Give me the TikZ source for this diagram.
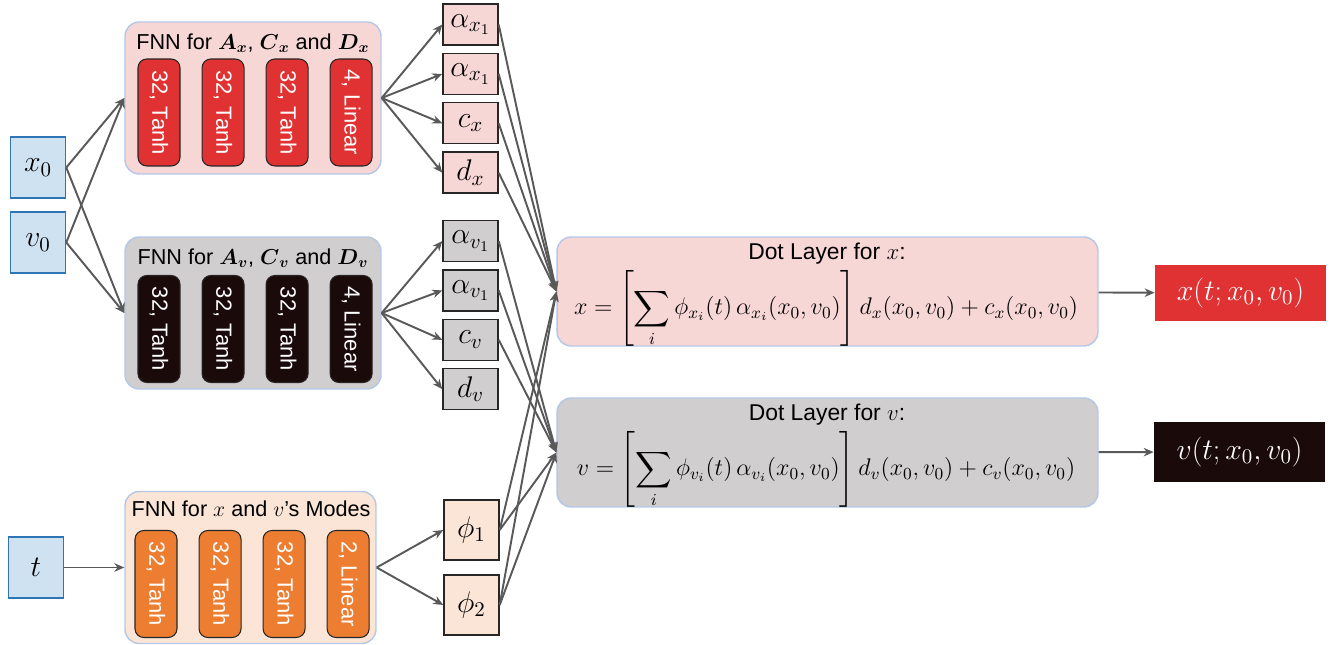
\RequirePackage{fix-cm}
\documentclass[tikz,border=0pt]{standalone}
\usepackage{amsmath}
\usepackage{fontspec}
\setmainfont{Liberation Sans}
\usetikzlibrary{arrows.meta,positioning}
\definecolor{infill}{RGB}{207,226,242}
\definecolor{inborder}{RGB}{46,117,182}
\definecolor{frame}{RGB}{180,199,231}
\definecolor{pinkbg}{RGB}{247,214,214}
\definecolor{greybg}{RGB}{208,206,206}
\definecolor{peachbg}{RGB}{251,229,214}
\definecolor{redunit}{RGB}{224,50,50}
\definecolor{darkunit}{RGB}{26,10,10}
\definecolor{orangeunit}{RGB}{237,125,49}
\definecolor{wire}{RGB}{89,89,89}
\newcommand{\vtext}[1]{\rotatebox{-90}{#1}}
\newcommand{\bsym}[1]{\boldsymbol{#1}}
\tikzset{
  invar/.style={draw=inborder,line width=0.9pt,fill=infill,minimum width=1.1cm,minimum height=1.22cm,inner sep=0pt,font=\fontsize{17}{19}\selectfont},
  fnn/.style={draw=frame,line width=0.8pt,rounded corners=8pt,minimum width=5.12cm,minimum height=3.04cm},
  nnlayer/.style={draw=black!85,line width=0.6pt,rounded corners=5pt,minimum width=0.84cm,minimum height=2.14cm,inner sep=0pt,text=white,font=\fontsize{12.5}{14}\selectfont},
  coef/.style={draw=black!85,line width=0.8pt,minimum width=1.1cm,minimum height=0.82cm,inner sep=0pt,font=\fontsize{17}{19}\selectfont},
  dotbox/.style={draw=frame,line width=0.8pt,rounded corners=8pt,minimum width=10.82cm,minimum height=2.18cm},
  formula/.style={inner sep=0pt,font=\fontsize{13.7}{16}\selectfont},
  result/.style={minimum width=3.42cm,minimum height=1.14cm,inner sep=0pt,text=white,font=\fontsize{17}{19}\selectfont},
  hdr/.style={inner sep=0pt,font=\fontsize{12.3}{14}\selectfont},
  arr/.style={-{Stealth[length=2mm,width=1.7mm]},draw=wire,line width=1.1pt}
}
\begin{document}
\begin{tikzpicture}[x=0.02cm,y=-0.02cm,node distance=0.42cm]
  \useasboundingbox (0,0) rectangle (1343,645);
  \node[invar] (x0) at (38,167.5) {$x_0$};
  \node[invar] (v0) at (38,242.5) {$v_0$};
  \node[invar] (t) at (36,567.5) {$t$};

  \node[fnn,fill=pinkbg] (fnnx) at (253,98) {};
  \node[hdr] at (253,43) {FNN for $\bsym{A}_{\bsym{x}}$, $\bsym{C}_{\bsym{x}}$ and $\bsym{D}_{\bsym{x}}$};
  \node[nnlayer,fill=redunit] (xl1) at (159,112.5) {\vtext{32, Tanh}};
  \node[nnlayer,fill=redunit,right=of xl1] (xl2) {\vtext{32, Tanh}};
  \node[nnlayer,fill=redunit,right=of xl2] (xl3) {\vtext{32, Tanh}};
  \node[nnlayer,fill=redunit,right=of xl3] (xl4) {\vtext{4, Linear}};

  \node[fnn,fill=greybg] (fnnv) at (253,313) {};
  \node[hdr] at (253,258) {FNN for $\bsym{A}_{\bsym{v}}$, $\bsym{C}_{\bsym{v}}$ and $\bsym{D}_{\bsym{v}}$};
  \node[nnlayer,fill=darkunit] (vl1) at (159,329) {\vtext{32, Tanh}};
  \node[nnlayer,fill=darkunit,right=of vl1] (vl2) {\vtext{32, Tanh}};
  \node[nnlayer,fill=darkunit,right=of vl2] (vl3) {\vtext{32, Tanh}};
  \node[nnlayer,fill=darkunit,right=of vl3] (vl4) {\vtext{4, Linear}};

  \node[fnn,fill=peachbg,minimum width=5.02cm] (fnnt) at (250.5,567.5) {};
  \node[hdr] at (251,509) {FNN for $x$ and $v$'s Modes};
  \node[nnlayer,fill=orangeunit] (tl1) at (156,584) {\vtext{32, Tanh}};
  \node[nnlayer,fill=orangeunit,right=of tl1] (tl2) {\vtext{32, Tanh}};
  \node[nnlayer,fill=orangeunit,right=of tl2] (tl3) {\vtext{32, Tanh}};
  \node[nnlayer,fill=orangeunit,right=of tl3] (tl4) {\vtext{2, Linear}};

  \node[coef,fill=pinkbg] (ax1) at (470.5,24.5) {$\alpha_{x_1}$};
  \node[coef,fill=pinkbg,below=0.14cm of ax1] (ax2) {$\alpha_{x_1}$};
  \node[coef,fill=pinkbg,below=0.14cm of ax2] (cx) {$c_x$};
  \node[coef,fill=pinkbg,below=0.14cm of cx] (dx) {$d_x$};
  \node[coef,fill=greybg] (av1) at (470.5,241) {$\alpha_{v_1}$};
  \node[coef,fill=greybg,below=0.14cm of av1] (av2) {$\alpha_{v_1}$};
  \node[coef,fill=greybg,below=0.14cm of av2] (cv) {$c_v$};
  \node[coef,fill=greybg,below=0.14cm of cv] (dv) {$d_v$};
  \node[coef,fill=peachbg,minimum height=1.2cm] (phi1) at (471.5,530) {$\phi_1$};
  \node[coef,fill=peachbg,minimum height=1.2cm] (phi2) at (471.5,605) {$\phi_2$};

  \node[dotbox,fill=pinkbg] (dotx) at (827.5,291.5) {};
  \node[hdr,font=\fontsize{13}{15}\selectfont] at (827,254) {Dot Layer for $x$:};
  \node[formula] at (826,309) {$\displaystyle x=\left[\sum_i \phi_{x_i}(t)\,\alpha_{x_i}(x_0,v_0)\right] d_x(x_0,v_0)+c_x(x_0,v_0)$};
  \node[dotbox,fill=greybg] (dotv) at (827.5,452.5) {};
  \node[hdr,font=\fontsize{13}{15}\selectfont] at (827,415) {Dot Layer for $v$:};
  \node[formula] at (826,470) {$\displaystyle v=\left[\sum_i \phi_{v_i}(t)\,\alpha_{v_i}(x_0,v_0)\right] d_v(x_0,v_0)+c_v(x_0,v_0)$};

  \node[result,fill=redunit] (outx) at (1240.5,293) {$x(t;x_0,v_0)$};
  \node[result,fill=darkunit,minimum height=1.2cm] (outv) at (1239.5,452) {$v(t;x_0,v_0)$};

  \draw[arr] (x0.east)--(fnnx.west);
  \draw[arr] (x0.east)--(fnnv.west);
  \draw[arr] (v0.east)--(fnnx.west);
  \draw[arr] (v0.east)--(fnnv.west);
  \draw[arr] (t)--(fnnt);
  \draw[arr] (fnnx.east)--(ax1.west);
  \draw[arr] (fnnx.east)--(ax2.west);
  \draw[arr] (fnnx.east)--(cx.west);
  \draw[arr] (fnnx.east)--(dx.west);
  \draw[arr] (fnnv.east)--(av1.west);
  \draw[arr] (fnnv.east)--(av2.west);
  \draw[arr] (fnnv.east)--(cv.west);
  \draw[arr] (fnnv.east)--(dv.west);
  \draw[arr] (fnnt.east)--(phi1.west);
  \draw[arr] (fnnt.east)--(phi2.west);
  \draw[arr] (ax1.east)--(dotx.west);
  \draw[arr] (ax2.east)--(dotx.west);
  \draw[arr] (cx.east)--(dotx.west);
  \draw[arr] (dx.east)--(dotx.west);
  \draw[arr] (phi1.east)--(dotx.west);
  \draw[arr] (phi2.east)--(dotx.west);
  \draw[arr] (av1.east)--(dotv.west);
  \draw[arr] (av2.east)--(dotv.west);
  \draw[arr] (cv.east)--(dotv.west);
  \draw[arr] (phi1.east)--(dotv.west);
  \draw[arr] (phi2.east)--(dotv.west);
  \draw[arr] (dotx)--(outx);
  \draw[arr] (dotv)--(outv);
\end{tikzpicture}
\end{document}
